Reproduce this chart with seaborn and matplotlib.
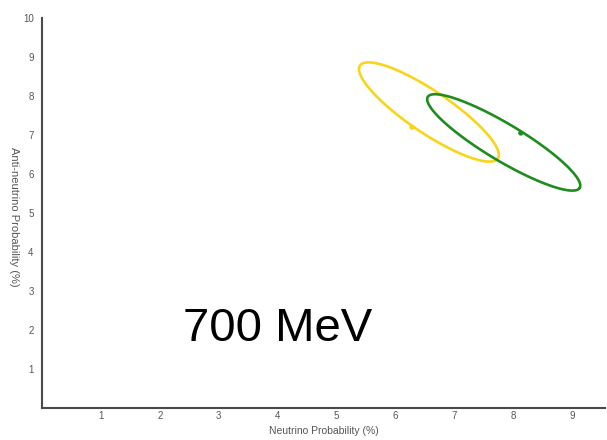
import numpy as np
import pandas as pd
import matplotlib
matplotlib.use("Agg")
import matplotlib.pyplot as plt
import seaborn as sns

# Confidence contours: center, semi-major vector and semi-minor vector (data units)
series_names = ["yellow", "green"]
center_x = [6.57, 7.84]
center_y = [7.59, 6.81]
major_dx = [1.170, 1.290]
major_dy = [-1.192, -1.167]
minor_dx = [-0.200, -0.161]
minor_dy = [-0.446, -0.407]
line_colors = ["#F7D51A", "#1E8C1E"]

# Best-fit markers
mark_x = [6.28, 8.13]
mark_y = [7.20, 7.05]

x_ticks = [1, 2, 3, 4, 5, 6, 7, 8, 9]
y_ticks = [1, 2, 3, 4, 5, 6, 7, 8, 9, 10]

sns.set_theme(style="white")
plt.rcParams["font.family"] = ["Liberation Sans", "DejaVu Sans"]

fig = plt.figure(figsize=(6.07, 4.40), dpi=100)
ax = fig.add_axes([42 / 607, 32 / 440, 563 / 607, 390 / 440])

t = np.linspace(0, 2 * np.pi, 361)
frames = []
for i, name in enumerate(series_names):
    xs = center_x[i] + np.cos(t) * major_dx[i] + np.sin(t) * minor_dx[i]
    ys = center_y[i] + np.cos(t) * major_dy[i] + np.sin(t) * minor_dy[i]
    frames.append(pd.DataFrame({"x": xs, "y": ys, "s": name}))
df = pd.concat(frames, ignore_index=True)

pal = dict(zip(series_names, line_colors))
sns.lineplot(data=df, x="x", y="y", hue="s", units="s", estimator=None, sort=False,
             palette=pal, linewidth=1.9, legend=False, ax=ax)
sns.scatterplot(x=mark_x, y=mark_y, hue=series_names, palette=pal, s=14,
                edgecolor="none", legend=False, ax=ax, zorder=3)

ax.set_xlim(0, 9.56)
ax.set_ylim(0, 10)
ax.set_xticks(x_ticks)
ax.set_yticks(y_ticks)
ax.set_xticklabels([str(v) for v in x_ticks])
ax.set_yticklabels([str(v) for v in y_ticks])

for side in ["top", "right"]:
    ax.spines[side].set_visible(False)
for side in ["left", "bottom"]:
    ax.spines[side].set_color("#4a4a4a")
    ax.spines[side].set_linewidth(1.5)

ax.tick_params(axis="both", direction="in", length=8, width=1.2, color="#8a8a8a",
               labelsize=7, labelcolor="#555555")
ax.tick_params(axis="y", pad=6)
ax.tick_params(axis="x", pad=2)

ax.set_xlabel("Neutrino Probability (%)", fontsize=7.5, color="#555555", labelpad=4)
ax.set_ylabel("Anti-neutrino Probability (%)", fontsize=8, color="#555555",
              rotation=270, va="top", labelpad=0.5)
ax.yaxis.set_label_coords(-0.041, 0.49)

ax.text(2.39, 2.03, "700 MeV", fontsize=34, color="black", va="center", ha="left")

fig.savefig("out.png", dpi=100)
